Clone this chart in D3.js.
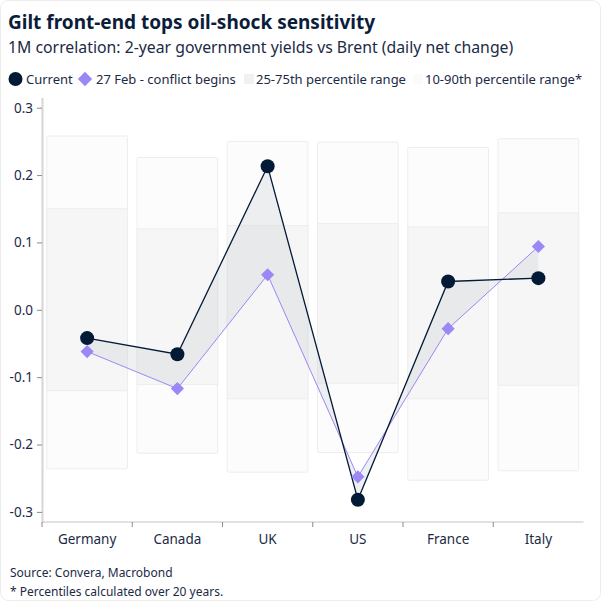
<!DOCTYPE html>
<html>
<head>
<meta charset="utf-8">
<script src="https://cdn.jsdelivr.net/npm/d3@7"></script>
<style>
	body { margin: 0; background: #fff; }
	svg text { font-family: "Noto Sans", "Open Sans", sans-serif; }
</style>
</head>
<body>
<div id="chart"></div>
<script>
// Countries and series
const countries = ["Germany", "Canada", "UK", "US", "France", "Italy"];
const current = [-0.042, -0.066, 0.213, -0.282, 0.042, 0.047];
const feb27 = [-0.062, -0.117, 0.052, -0.248, -0.028, 0.094];
// Percentile bands (20 years)
const p10 = [-0.236, -0.213, -0.241, -0.212, -0.253, -0.239];
const p25 = [-0.120, -0.111, -0.132, -0.109, -0.132, -0.112];
const p75 = [0.150, 0.120, 0.125, 0.128, 0.123, 0.144];
const p90 = [0.258, 0.226, 0.250, 0.249, 0.241, 0.254];
const yTicks = [-0.3, -0.2, -0.1, 0.0, 0.1, 0.2, 0.3];

const navy = "#031a36";
const lilac = "#9b87f5";
const textCol = "#1c2a45";

const W = 601, H = 601;
const svg = d3.select("#chart").append("svg")
	.attr("width", W)
	.attr("height", H);

// card outline
svg.append("rect")
	.attr("x", 0.5).attr("y", 0.5)
	.attr("width", W - 1).attr("height", H - 1)
	.attr("rx", 8)
	.attr("fill", "#fff")
	.attr("stroke", "#ececec");

// Title and subtitle
svg.append("text")
	.attr("x", 8).attr("y", 29)
	.attr("font-size", 19)
	.attr("font-weight", "bold")
	.attr("fill", "#0b1d3a")
	.text("Gilt front-end tops oil-shock sensitivity");
svg.append("text")
	.attr("x", 8).attr("y", 53)
	.attr("font-size", 15.8)
	.attr("fill", textCol)
	.text("1M correlation: 2-year government yields vs Brent (daily net change)");

// Scales
const x = d3.scaleBand()
	.domain(countries)
	.range([42, 583.5])
	.paddingInner(0.106)
	.paddingOuter(0.053);
const y = d3.scaleLinear()
	.domain([-0.315, 0.315])
	.range([522, 97.6]);
const step = x.step();
const cx = c => x(c) + x.bandwidth() / 2;

// Percentile boxes: 10-90 first, 25-75 on top
const rows = countries.map((c, i) => ({
	c: c, cur: current[i], feb: feb27[i],
	p10: p10[i], p25: p25[i], p75: p75[i], p90: p90[i]
}));

const boxes = svg.append("g");
boxes.selectAll("rect.outer")
	.data(rows)
	.enter()
	.append("rect")
	.attr("class", "outer")
	.attr("x", d => x(d.c))
	.attr("y", d => y(d.p90))
	.attr("width", x.bandwidth())
	.attr("height", d => y(d.p10) - y(d.p90))
	.attr("rx", 1.5)
	.attr("fill", "#fcfcfc")
	.attr("stroke", "#ededed")
	.attr("stroke-width", 1);
boxes.selectAll("rect.inner")
	.data(rows)
	.enter()
	.append("rect")
	.attr("class", "inner")
	.attr("x", d => x(d.c))
	.attr("y", d => y(d.p75))
	.attr("width", x.bandwidth())
	.attr("height", d => y(d.p25) - y(d.p75))
	.attr("fill", "#f6f6f6")
	.attr("stroke", "#ededed")
	.attr("stroke-width", 1);

// Shaded gap between the two lines
svg.append("path")
	.datum(rows)
	.attr("fill", "#c3c8d0")
	.attr("fill-opacity", 0.28)
	.attr("d", d3.area()
		.x(d => cx(d.c))
		.y0(d => y(d.feb))
		.y1(d => y(d.cur)));

// Axes
const yAxis = svg.append("g")
	.attr("transform", "translate(42,0)")
	.call(d3.axisLeft(y).tickValues(yTicks).tickFormat(d3.format(".1f")).tickSize(5).tickSizeOuter(0));
yAxis.select(".domain").attr("stroke", "#d6d6d6").attr("stroke-width", 2);
yAxis.selectAll(".tick line").attr("stroke", "#8a8a8a");
yAxis.selectAll(".tick text")
	.attr("font-size", 13.5)
	.attr("fill", textCol)
	.attr("x", -9)
	.text(d => d3.format(".1f")(d).replace("−", "-"));

const xAxis = svg.append("g")
	.attr("transform", "translate(0,522)");
xAxis.append("line")
	.attr("x1", 42).attr("x2", 583.5)
	.attr("stroke", "#c4c4c4").attr("stroke-width", 1.2);
xAxis.selectAll("line.tk")
	.data(countries)
	.enter()
	.append("line")
	.attr("class", "tk")
	.attr("x1", (d, i) => 42 + i * step)
	.attr("x2", (d, i) => 42 + i * step)
	.attr("y1", 0).attr("y2", 5)
	.attr("stroke", "#8a8a8a");
xAxis.selectAll("text")
	.data(countries)
	.enter()
	.append("text")
	.attr("x", d => cx(d))
	.attr("y", 22)
	.attr("text-anchor", "middle")
	.attr("font-size", 13.5)
	.attr("fill", textCol)
	.text(d => d);

// Lines
svg.append("path")
	.datum(rows)
	.attr("fill", "none")
	.attr("stroke", lilac)
	.attr("stroke-width", 1)
	.attr("d", d3.line().x(d => cx(d.c)).y(d => y(d.feb)));
svg.append("path")
	.datum(rows)
	.attr("fill", "none")
	.attr("stroke", navy)
	.attr("stroke-width", 1.3)
	.attr("d", d3.line().x(d => cx(d.c)).y(d => y(d.cur)));

// Markers
const diamond = d3.symbol().type(d3.symbolDiamond2).size(110);
svg.selectAll("path.feb")
	.data(rows)
	.enter()
	.append("path")
	.attr("class", "feb")
	.attr("transform", d => "translate(" + cx(d.c) + "," + y(d.feb) + ")")
	.attr("d", diamond)
	.attr("fill", lilac);
svg.selectAll("circle.cur")
	.data(rows)
	.enter()
	.append("circle")
	.attr("class", "cur")
	.attr("cx", d => cx(d.c))
	.attr("cy", d => y(d.cur))
	.attr("r", 7)
	.attr("fill", navy);

// Legend
const lg = svg.append("g").attr("transform", "translate(0,79)");
const lgSize = 13;
lg.append("circle").attr("cx", 15.5).attr("cy", 0).attr("r", 7).attr("fill", navy);
lg.append("text").attr("x", 26).attr("y", 4.5).attr("font-size", lgSize).attr("fill", textCol).text("Current");
lg.append("path").attr("transform", "translate(85,0)").attr("d", d3.symbol().type(d3.symbolDiamond2).size(130)).attr("fill", lilac);
lg.append("text").attr("x", 96).attr("y", 4.5).attr("font-size", lgSize).attr("fill", textCol).text("27 Feb - conflict begins");
lg.append("rect").attr("x", 244).attr("y", -5).attr("width", 10).attr("height", 10).attr("fill", "#f1f1f1");
lg.append("text").attr("x", 256).attr("y", 4.5).attr("font-size", lgSize).attr("fill", textCol).text("25-75th percentile range");
lg.append("rect").attr("x", 413).attr("y", -5).attr("width", 10).attr("height", 10).attr("fill", "#fbfbfb");
lg.append("text").attr("x", 425).attr("y", 4.5).attr("font-size", lgSize).attr("fill", textCol).text("10-90th percentile range*");

// Footer
svg.append("text").attr("x", 10).attr("y", 577).attr("font-size", 12).attr("fill", textCol)
	.text("Source: Convera, Macrobond");
svg.append("text").attr("x", 10).attr("y", 596).attr("font-size", 12).attr("fill", textCol)
	.text("* Percentiles calculated over 20 years.");
</script>
</body>
</html>
